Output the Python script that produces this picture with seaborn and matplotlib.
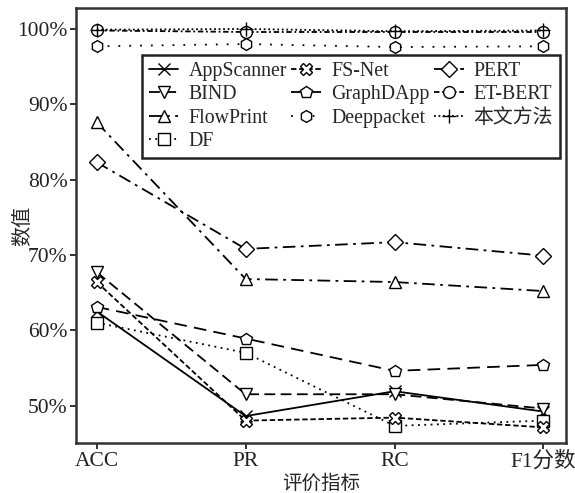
import matplotlib
matplotlib.use("Agg")
import matplotlib.pyplot as plt
import seaborn as sns
import pandas as pd
from matplotlib.ticker import FuncFormatter

sns.set_theme(style="white")
plt.rcParams['font.family'] = ['Liberation Serif', 'Noto Sans CJK SC']
plt.rcParams['axes.unicode_minus'] = False

metrics = ["ACC", "PR", "RC", "F1分数"]
appscanner = [62.5, 48.6, 51.9, 49.2]
bind = [67.7, 51.5, 51.5, 49.6]
flowprint = [87.6, 66.8, 66.4, 65.2]
df_vals = [61.0, 57.0, 47.3, 48.0]
fsnet = [66.4, 48.0, 48.4, 47.1]
graphdapp = [63.1, 58.9, 54.6, 55.4]
deeppacket = [97.7, 98.0, 97.6, 97.7]
pert = [82.3, 70.8, 71.7, 69.9]
etbert = [99.8, 99.6, 99.6, 99.6]
ours = [99.9, 100.0, 99.7, 99.8]

series = [
    ("AppScanner", appscanner, "x", "-", 9),
    ("BIND", bind, "v", (0, (6, 3)), 9),
    ("FlowPrint", flowprint, "^", (0, (7, 3, 1.5, 3)), 9),
    ("DF", df_vals, "s", (0, (1, 2.5)), 8.5),
    ("FS-Net", fsnet, "X", (0, (3, 1.5)), 9),
    ("GraphDApp", graphdapp, "p", (0, (7, 4)), 9),
    ("Deeppacket", deeppacket, "h", (0, (1, 5)), 8.5),
    ("PERT", pert, "D", (0, (7, 3, 1.5, 3)), 8),
    ("ET-BERT", etbert, "o", (0, (3, 1.5, 1, 1.5)), 8.5),
    ("本文方法", ours, "+", (0, (1, 1.5)), 10),
]

fig = plt.figure(figsize=(5.75, 4.93), dpi=100)
ax = fig.add_axes([0.132, 0.101, 0.852, 0.883])

for name, vals, mk, ls, ms in series:
    d = pd.DataFrame({"metric": metrics, "value": vals})
    sns.lineplot(data=d, x="metric", y="value", sort=False, ax=ax,
                 color="black", marker=mk, linestyle=ls, linewidth=1.3,
                 markersize=ms, markerfacecolor="white" if mk not in ("x", "+") else "black",
                 markeredgecolor="black", markeredgewidth=1.0, label=name)

ax.set_xlim(-0.14, 3.15)
ax.set_ylim(45, 102.8)
ax.set_yticks([50, 60, 70, 80, 90, 100])
ax.yaxis.set_major_formatter(FuncFormatter(lambda v, p: f"{int(v)}%"))
ax.set_xlabel("评价指标", fontsize=14, labelpad=2)
ax.set_ylabel("数值", fontsize=14.5)
ax.yaxis.set_label_coords(-0.088, 0.5)
ax.tick_params(axis="both", labelsize=15.5, direction="out", length=4, width=1.3,
               bottom=True, left=True, colors="#222222", pad=2)
for sp in ax.spines.values():
    sp.set_linewidth(1.8)
    sp.set_color("#333333")

leg = ax.legend(loc="upper right", bbox_to_anchor=(0.988, 0.892), borderaxespad=0,
                ncol=3, fontsize=14.3, frameon=True, fancybox=False, framealpha=1,
                edgecolor="#222222", handlelength=1.5, handletextpad=0.5,
                columnspacing=0.22, labelspacing=0.22, borderpad=0.35)
leg.get_frame().set_linewidth(1.8)

fig.savefig("out.png", dpi=100)
